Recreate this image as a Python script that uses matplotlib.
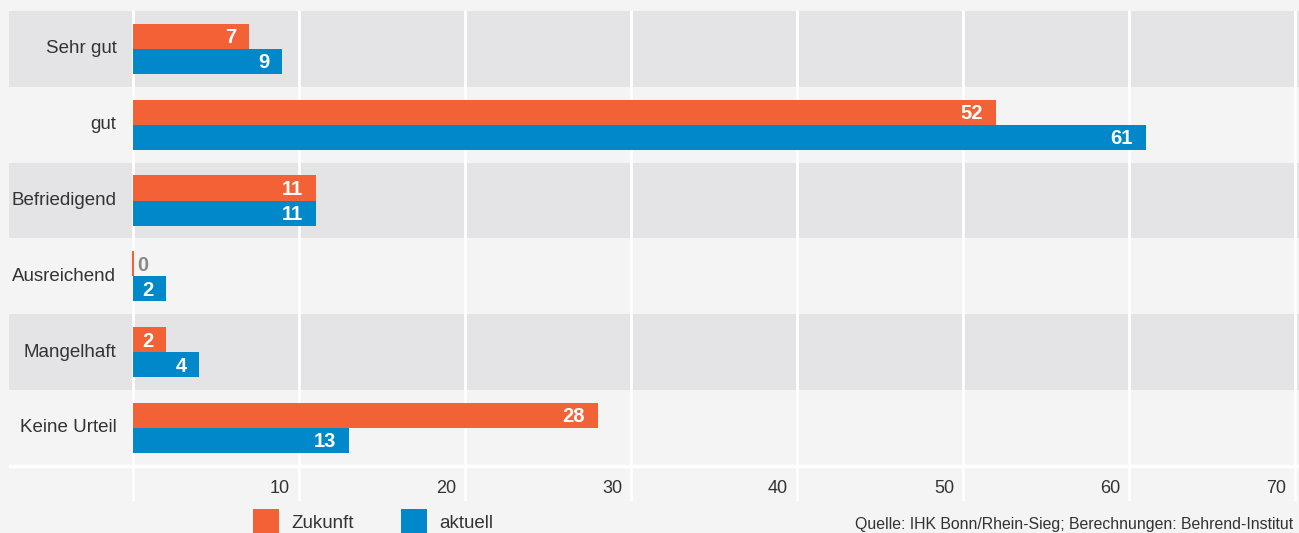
import matplotlib.pyplot as plt
from matplotlib.lines import Line2D
from matplotlib.transforms import offset_copy

# Bewertung der Standortfaktoren: Zukunft vs. aktuell (in %)
categories = ['Sehr gut', 'gut', 'Befriedigend', 'Ausreichend', 'Mangelhaft', 'Keine Urteil']
zukunft = [7, 52, 11, 0, 2, 28]
aktuell = [9, 61, 11, 2, 4, 13]
x_ticks = [10, 20, 30, 40, 50, 60, 70]
legend_labels = ['Zukunft', 'aktuell']
source = 'Quelle: IHK Bonn/Rhein-Sieg; Berechnungen: Behrend-Institut'

orange = '#f26236'
blue = '#0088ca'
bg = '#f4f4f4'
band = '#e4e4e6'
text_col = '#333333'

plt.rcParams['font.family'] = ['Liberation Sans', 'DejaVu Sans']

fig = plt.figure(figsize=(12.99, 5.33), dpi=100, facecolor=bg)
ax = fig.add_axes([9 / 1299, 32 / 533, 1290 / 1299, 490 / 533])
ax.set_facecolor(bg)
ax.set_xlim(-7.47, 70.24)
ax.set_ylim(5.964, -0.5)
for s in ax.spines.values():
    s.set_visible(False)
ax.set_xticks([])
ax.set_yticks([])

# alternating row bands
for i in range(0, len(categories), 2):
    ax.axhspan(i - 0.5, i + 0.5, color=band, lw=0, zorder=0.1)

# white grid lines
for t in [0] + x_ticks:
    ax.axvline(t, color='white', lw=2, zorder=0.5)
ax.axhline(len(categories) - 0.5, color='white', lw=2.5, zorder=0.5)

h = 0.33
ypos = list(range(len(categories)))
ax.barh([y - h / 2 for y in ypos], zukunft, height=h, color=orange,
        edgecolor=orange, linewidth=[1.5 if v == 0 else 0 for v in zukunft], zorder=2)
ax.barh([y + h / 2 for y in ypos], aktuell, height=h, color=blue,
        edgecolor=blue, linewidth=[1.5 if v == 0 else 0 for v in aktuell], zorder=2)

# value labels: white inside the bar end, grey next to zero bars
inside = offset_copy(ax.transData, fig, x=-13, y=-1.5, units='dots')
outside = offset_copy(ax.transData, fig, x=4, y=-1.5, units='dots')
for y in ypos:
    for v, yy in [(zukunft[y], y - h / 2), (aktuell[y], y + h / 2)]:
        if v == 0:
            ax.text(v, yy, str(v), transform=outside, ha='left', va='center',
                    color='#8a8a8a', fontweight='bold', fontsize=14.5, zorder=3)
        else:
            ax.text(v, yy, str(v), transform=inside, ha='right', va='center',
                    color='white', fontweight='bold', fontsize=14.5, zorder=3)

# category labels
for y, cat in zip(ypos, categories):
    ax.text(-1.0, y, cat, ha='right', va='center', fontsize=13.5, color=text_col)

# x tick labels, right-aligned left of each grid line
tick_tr = offset_copy(ax.transData, fig, x=-9, y=0, units='dots')
for t in x_ticks:
    ax.text(t, 5.793, str(t), transform=tick_tr, ha='right', va='center',
            fontsize=13, color=text_col)

handles = [Line2D([], [], marker='s', ms=19.4, ls='none', color=orange, mew=0),
           Line2D([], [], marker='s', ms=19.4, ls='none', color=blue, mew=0)]
leg = fig.legend(handles, legend_labels, loc='center left',
                 bbox_to_anchor=(252 / 1299, (533 - 523.5) / 533), ncol=2, frameon=False,
                 fontsize=13.5, handlelength=1.44, handletextpad=0.64, columnspacing=2.48,
                 borderpad=0, borderaxespad=0)
for txt in leg.get_texts():
    txt.set_color(text_col)

fig.text(1293 / 1299, (533 - 525) / 533, source, ha='right', va='center',
         fontsize=11.4, color=text_col)

fig.savefig('out.png', dpi=100, facecolor=bg)
